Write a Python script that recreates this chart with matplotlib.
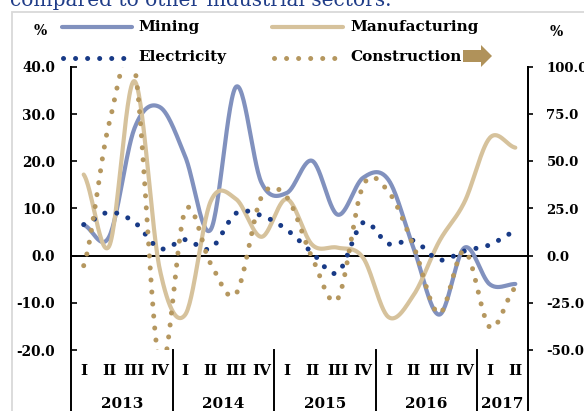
import numpy as np
import matplotlib
matplotlib.use("Agg")
import matplotlib.pyplot as plt
from matplotlib.lines import Line2D
from matplotlib.patches import Rectangle, Polygon

# quarterly growth, % (left axis) and construction, % (right axis)
quarters = ["I", "II", "III", "IV"] * 4 + ["I", "II"]
years = ["2013", "2014", "2015", "2016", "2017"]
year_lengths = [4, 4, 4, 4, 2]

mining = [6.5, 4.0, 27.0, 31.5, 21.0, 5.5, 35.8, 15.5, 13.3, 20.1, 8.7, 16.5,
          16.1, 1.5, -12.5, 1.7, -6.1, -6.0]
manufacturing = [17.2, 2.0, 37.0, -3.0, -12.5, 11.5, 12.0, 4.0, 12.0, 2.3, 1.7,
                 -0.4, -13.0, -8.3, 3.0, 11.4, 25.0, 22.9]
electricity = [6.6, 9.2, 7.1, 1.5, 3.4, 1.5, 9.0, 8.5, 5.5, 0.6, -3.6, 7.0,
               2.5, 3.2, -0.9, 1.0, 2.3, 5.1]
construction = [-5.3, 70.0, 100.0, -58.0, 24.0, -4.2, -20.2, 31.0, 31.0, -1.1,
                -23.0, 37.0, 34.0, 4.9, -30.7, 2.6, -38.0, -17.0]

C_MIN = "#8191BE"
C_MAN = "#D6C29C"
C_ELE = "#183A86"
C_CON = "#B5975F"

W, H = 584, 411
FONT = dict(family="DejaVu Serif", fontweight="bold")


def fx(px):
    return px / W


def fy(py):
    return 1 - py / H


def smooth(vals, n=30):
    """Catmull-Rom curve through the points (spreadsheet-style smoothed line)."""
    y = np.asarray(vals, float)
    p = np.concatenate([[y[0]], y, [y[-1]]])
    t = np.linspace(0, 1, n, endpoint=False)
    h00 = 2 * t**3 - 3 * t**2 + 1
    h10 = t**3 - 2 * t**2 + t
    h01 = -2 * t**3 + 3 * t**2
    h11 = t**3 - t**2
    xs, ys = [], []
    for i in range(len(y) - 1):
        m1 = (p[i + 2] - p[i]) / 2
        m2 = (p[i + 3] - p[i + 1]) / 2
        ys.append(h00 * p[i + 1] + h10 * m1 + h01 * p[i + 2] + h11 * m2)
        xs.append(i + t)
    xs.append([len(y) - 1])
    ys.append([y[-1]])
    return np.concatenate(xs) + 0.5, np.concatenate(ys)


fig = plt.figure(figsize=(W / 100, H / 100), dpi=100)

# chart frame and the caption line above it
fig.patches.append(Rectangle((fx(11.5), fy(700)), fx(800), fy(11.5) - fy(700),
                             transform=fig.transFigure, fill=False,
                             ec="#d9d9d9", lw=1.3))
fig.text(fx(10), fy(5.5), "compared to other industrial sectors.",
         family="DejaVu Serif", fontsize=14.5, color="#1F3C88", va="baseline")

ax = fig.add_axes([fx(71), fy(350), fx(528) - fx(71), fy(67) - fy(350)])
ax.patch.set_visible(False)
ax2 = ax.twinx()

n = len(quarters)
dotted = (0, (0.01, 2.4))

for vals, col in ((mining, C_MIN), (manufacturing, C_MAN)):
    xs, ys = smooth(vals)
    ax.plot(xs, ys, color=col, lw=3.0, solid_capstyle="round", zorder=3)
xs, ys = smooth(electricity)
ax.plot(xs, ys, color=C_ELE, lw=3.6, ls=dotted, dash_capstyle="round", zorder=4)
xs, ys = smooth(construction)
ax2.plot(xs, ys, color=C_CON, lw=3.6, ls=dotted, dash_capstyle="round", zorder=4)

ax.axhline(0, color="black", lw=1.4, zorder=2)

ax.set_xlim(0, n)
ax.set_ylim(-20, 40)
ax2.set_ylim(-50, 100)
ax.set_yticks(np.arange(-20, 41, 10))
ax2.set_yticks(np.arange(-50, 101, 25))
ax.set_yticklabels([f"{v:.1f}" for v in ax.get_yticks()], fontsize=9.8, **FONT)
ax2.set_yticklabels([f"{v:.1f}" for v in ax2.get_yticks()], fontsize=9.5, **FONT)
ax.set_xticks([])

for a in (ax, ax2):
    for s in ("top", "bottom"):
        a.spines[s].set_visible(False)
    a.spines["left"].set_linewidth(1.4)
    a.spines["right"].set_linewidth(1.4)
ax.tick_params(axis="y", direction="in", length=4.5, width=1.2, pad=11.5)
ax2.tick_params(axis="y", direction="out", length=3.8, width=1.2, pad=9.5)

# multi-level category axis below the plot
ybot = (350 - 411) / 283
trans = ax.get_xaxis_transform()
for x in (0, n):
    ax.add_line(Line2D([x, x], [0, ybot], transform=trans, color="black",
                       lw=1.4, clip_on=False))
for i, q in enumerate(quarters):
    ax.text(i + 0.5, (350 - 371) / 283, q, transform=trans, ha="center",
            va="center", fontsize=11, **FONT)
start = 0
for yr, ln in zip(years, year_lengths):
    ax.text(start + ln / 2, (350 - 404) / 283, yr, transform=trans,
            ha="center", va="center", fontsize=11, **FONT)
    start += ln
    if start < n:
        ax.add_line(Line2D([start, start], [0, ybot], transform=trans,
                           color="black", lw=1.4, clip_on=False))

# legend
def leg_line(x0, x1, y, **kw):
    fig.add_artist(Line2D([fx(x0), fx(x1)], [fy(y), fy(y)],
                          transform=fig.transFigure, **kw))


leg_line(62, 132, 27, color=C_MIN, lw=3.0, solid_capstyle="round")
leg_line(272, 343, 27, color=C_MAN, lw=3.0, solid_capstyle="round")
leg_line(63, 131, 58, color=C_ELE, lw=3.6, ls=dotted, dash_capstyle="round")
leg_line(274, 343, 58, color=C_CON, lw=3.6, ls=dotted, dash_capstyle="round")
for x, y, s in ((138, 27, "Mining"), (350, 27, "Manufacturing"),
                (138, 57, "Electricity"), (350, 57, "Construction")):
    fig.text(fx(x), fy(y), s, va="center", ha="left", fontsize=11, **FONT)
fig.text(fx(40), fy(31), "%", ha="center", va="center", fontsize=10, **FONT)
fig.text(fx(556), fy(32), "%", ha="center", va="center", fontsize=10, **FONT)

arrow_px = [(463, 50), (481, 50), (481, 45), (492, 56), (481, 67), (481, 62),
            (463, 62)]
fig.patches.append(Polygon([(fx(a), fy(b)) for a, b in arrow_px],
                           closed=True, transform=fig.transFigure,
                           fc="#B0925A", ec="none"))

fig.savefig("out.png", dpi=100)
